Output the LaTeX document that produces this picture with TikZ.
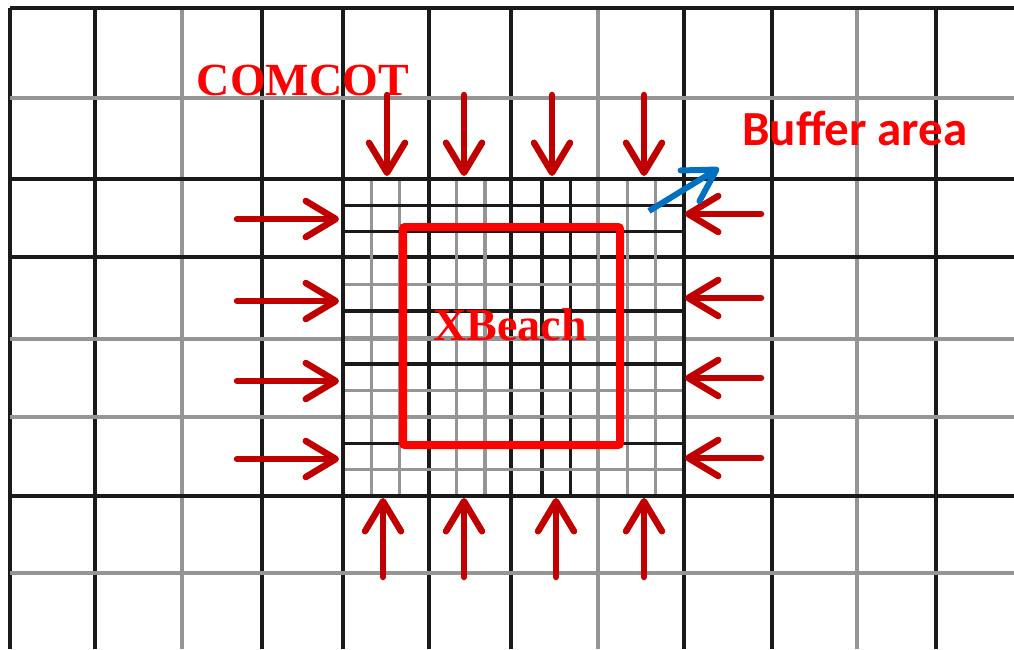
\documentclass[tikz,border=0pt]{standalone}
\usepackage{fontspec}
\setmainfont{Liberation Serif}
\newfontfamily\calib{Carlito}
\usetikzlibrary{arrows.meta}
\definecolor{darkred}{HTML}{C00000}
\definecolor{bluearr}{HTML}{0070C0}
\definecolor{gridgray}{HTML}{959595}
\definecolor{griddark}{HTML}{1A1A1A}
\tikzset{
  dk/.style={draw=griddark,line width=3.3pt},
  gy/.style={draw=gridgray,line width=3.3pt},
  inarrow/.style={draw=darkred,line width=6.5pt,line cap=round,
     -{Straight Barb[length=30pt,width=36pt,round]}},
  bluearrow/.style={draw=bluearr,line width=6pt,
     -{Straight Barb[length=31pt,width=36pt,round]}},
  lbl/.style={text=red,font=\bfseries\fontsize{46}{50}\selectfont,inner sep=0pt,anchor=base}
}
\begin{document}
\begin{tikzpicture}[x=1pt,y=-1pt]
\useasboundingbox (0,0) rectangle (1014,649);
\fill[white] (0,0) rectangle (1014,649);
% coarse grid vertical
\foreach \x/\s in {10/dk,95/dk,182/gy,262/dk,343/dk,429/dk,511/dk,598/gy,684/dk,772/dk,857/gy,936/dk}
  \draw[\s] (\x,8) -- (\x,649);
% coarse grid horizontal
\foreach \y/\s in {8/dk,98/gy,179/dk,257/dk,339/gy,417/gy,496/dk,573/gy}
  \draw[\s] (10,\y) -- (1014,\y);
% fine grid
\foreach \k/\s in {1/gy,2/gy,4/gy,5/gy,7/dk,8/dk,9/gy,10/gy,11/gy}
  \draw[\s] ({343+\k*28.42},179) -- ({343+\k*28.42},496);
\foreach \k/\s in {1/dk,2/dk,4/gy,5/dk,6/gy,7/dk,8/gy,9/gy,10/dk,11/gy}
  \draw[\s] (343,{179+\k*26.42}) -- (684,{179+\k*26.42});
\draw[dk] (343,179) rectangle (684,496);
% XBeach domain
\draw[red,line width=8pt,rounded corners=2pt] (403,227) rectangle (620,445);
\node[lbl] (xb) at (510,340) {XBeach};
\node[lbl] (cc) at (303,95) {COMCOT};
\node[text=red,font=\calib\bfseries\fontsize{49}{52}\selectfont,inner sep=0pt,anchor=base] (buf) at (855,145) {Buffer area};
% top arrows (down)
\foreach \x/\n in {387/1,464/2,552/3,644/4}{
  \coordinate (t\n a) at (\x,95); \coordinate (t\n b) at (\x,176);
  \draw[inarrow] (t\n a) -- (t\n b);}
% bottom arrows (up)
\foreach \x/\n in {383/1,464/2,556/3,644/4}{
  \coordinate (b\n a) at (\x,577); \coordinate (b\n b) at (\x,498);
  \draw[inarrow] (b\n a) -- (b\n b);}
% left arrows (right)
\foreach \y/\n in {219/1,301/2,381/3,459/4}{
  \coordinate (l\n a) at (237,\y); \coordinate (l\n b) at (339,\y);
  \draw[inarrow] (l\n a) -- (l\n b);}
% right arrows (left)
\foreach \y/\n in {214/1,298/2,378/3,458/4}{
  \coordinate (r\n a) at (761,\y); \coordinate (r\n b) at (685,\y);
  \draw[inarrow] (r\n a) -- (r\n b);}
% buffer pointer
\coordinate (ba) at (649,211);
\coordinate (bb) at (719,168);
\draw[bluearrow] (ba) -- (bb);
\end{tikzpicture}
\end{document}
